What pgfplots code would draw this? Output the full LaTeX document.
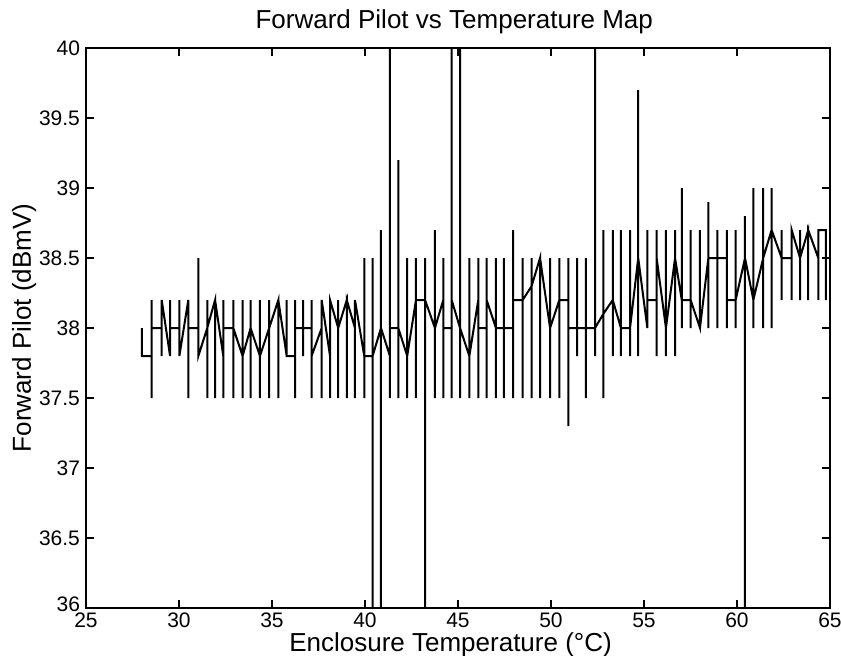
\documentclass[border=0pt]{standalone}
\usepackage{fontspec}
\setmainfont{Liberation Sans}
\usepackage{pgfplots}
\pgfplotsset{compat=1.18}
\usetikzlibrary{calc}
\begin{document}
\begin{tikzpicture}
\begin{axis}[name=ax, scale only axis, width=372pt, height=280pt,
  xmin=25, xmax=65, ymin=36, ymax=40,
  xtick={25,30,35,40,45,50,55,60,65},
  ytick={36,36.5,37,37.5,38,38.5,39,39.5,40},
  yticklabels={\raisebox{4pt}{36},36.5,37,37.5,38,38.5,39,39.5,40},
  tick align=inside, major tick length=4pt,
  tick style={black, line width=0.6pt},
  axis line style={line width=0.8pt},
  tick label style={font=\fontsize{10.5}{12}\selectfont},
  xticklabel style={yshift=1pt},
  yticklabel style={xshift=0.5pt},
  /pgf/number format/assume math mode=true,
  title={Forward Pilot vs Temperature Map},
  title style={font=\fontsize{13}{15}\selectfont, at={(axis description cs:0.495,1.046)}, anchor=center, yshift=-6pt},
  xlabel={Enclosure Temperature (°C)},
  xlabel style={font=\fontsize{13}{15}\selectfont, at={(axis description cs:0.49,-0.065)}, anchor=center},
  ylabel={Forward Pilot (dBmV)},
  ylabel style={font=\fontsize{13}{15}\selectfont, at={(axis description cs:-0.083,0.5)}, anchor=center},
  ]
% each temperature step: enter value, max, min, exit value
\addplot[black, line width=1pt, mark=none] coordinates {
 (28.00,38.0) (28.00,38.0) (28.00,37.8) (28.00,37.8)
 (28.53,37.8) (28.53,38.2) (28.53,37.5) (28.53,38.0)
 (29.07,38.0) (29.07,38.2) (29.07,37.8) (29.07,38.2)
 (29.52,37.8) (29.52,38.2) (29.52,37.8) (29.52,38.0)
 (30.02,38.0) (30.02,38.2) (30.02,37.8) (30.02,37.8)
 (30.50,38.2) (30.50,38.2) (30.50,37.5) (30.50,38.0)
 (31.04,38.0) (31.04,38.5) (31.04,37.8) (31.04,37.8)
 (31.52,38.0) (31.52,38.2) (31.52,37.5) (31.52,38.0)
 (31.94,38.2) (31.94,38.2) (31.94,37.5) (31.94,38.2)
 (32.38,37.8) (32.38,38.2) (32.38,37.5) (32.38,38.0)
 (32.92,38.0) (32.92,38.2) (32.92,37.5) (32.92,38.0)
 (33.42,37.8) (33.42,38.2) (33.42,37.5) (33.42,37.8)
 (33.85,38.0) (33.85,38.2) (33.85,37.5) (33.85,38.0)
 (34.35,37.8) (34.35,38.2) (34.35,37.5) (34.35,37.8)
 (34.85,38.0) (34.85,38.2) (34.85,37.5) (34.85,38.0)
 (35.34,38.2) (35.34,38.2) (35.34,37.5) (35.34,38.2)
 (35.79,37.8) (35.79,38.2) (35.79,37.8) (35.79,37.8)
 (36.24,37.8) (36.24,38.2) (36.24,37.5) (36.24,38.0)
 (36.68,38.0) (36.68,38.2) (36.68,37.8) (36.68,38.0)
 (37.13,38.0) (37.13,38.2) (37.13,37.5) (37.13,37.8)
 (37.67,38.0) (37.67,38.2) (37.67,37.5) (37.67,38.2)
 (38.12,37.8) (38.12,38.2) (38.12,37.5) (38.12,38.2)
 (38.56,38.0) (38.56,38.2) (38.56,37.5) (38.56,38.0)
 (39.02,38.2) (39.02,38.2) (39.02,37.5) (39.02,38.2)
 (39.46,38.0) (39.46,38.2) (39.46,37.5) (39.46,38.2)
 (39.96,37.8) (39.96,38.5) (39.96,37.5) (39.96,37.8)
 (40.41,37.8) (40.41,38.5) (40.41,36.0) (40.41,37.8)
 (40.86,38.0) (40.86,38.7) (40.86,36.0) (40.86,38.0)
 (41.34,37.8) (41.34,40.0) (41.34,37.5) (41.34,38.0)
 (41.79,38.0) (41.79,39.2) (41.79,37.5) (41.79,38.0)
 (42.27,37.8) (42.27,38.5) (42.27,37.5) (42.27,37.8)
 (42.74,38.2) (42.74,38.5) (42.74,37.5) (42.74,38.2)
 (43.23,38.2) (43.23,38.5) (43.23,36.0) (43.23,38.2)
 (43.76,38.0) (43.76,38.7) (43.76,37.5) (43.76,38.0)
 (44.21,38.2) (44.21,38.5) (44.21,37.5) (44.21,38.0)
 (44.66,38.0) (44.66,40.0) (44.66,37.5) (44.66,38.2)
 (45.11,38.0) (45.11,40.0) (45.11,37.5) (45.11,38.0)
 (45.61,37.8) (45.61,38.5) (45.61,37.5) (45.61,37.8)
 (46.09,38.2) (46.09,38.5) (46.09,37.5) (46.09,38.0)
 (46.54,38.0) (46.54,38.5) (46.54,37.5) (46.54,38.2)
 (47.04,38.0) (47.04,38.5) (47.04,37.5) (47.04,38.0)
 (47.47,38.0) (47.47,38.5) (47.47,37.5) (47.47,38.0)
 (47.97,38.0) (47.97,38.7) (47.97,37.5) (47.97,38.2)
 (48.48,38.2) (48.48,38.5) (48.48,37.5) (48.48,38.2)
 (48.96,38.3) (48.96,38.5) (48.96,37.5) (48.96,38.3)
 (49.41,38.5) (49.41,38.5) (49.41,37.5) (49.41,38.5)
 (49.95,38.0) (49.95,38.5) (49.95,37.5) (49.95,38.0)
 (50.45,38.2) (50.45,38.5) (50.45,37.5) (50.45,38.2)
 (50.93,38.2) (50.93,38.5) (50.93,37.3) (50.93,38.0)
 (51.41,38.0) (51.41,38.5) (51.41,37.8) (51.41,38.0)
 (51.88,38.0) (51.88,38.5) (51.88,37.5) (51.88,38.0)
 (52.37,38.0) (52.37,40.0) (52.37,37.8) (52.37,38.0)
 (52.81,38.1) (52.81,38.7) (52.81,37.5) (52.81,38.1)
 (53.32,38.2) (53.32,38.7) (53.32,37.8) (53.32,38.2)
 (53.76,38.0) (53.76,38.7) (53.76,37.8) (53.76,38.0)
 (54.25,38.0) (54.25,38.7) (54.25,37.8) (54.25,38.0)
 (54.69,38.5) (54.69,39.7) (54.69,37.8) (54.69,38.5)
 (55.18,38.0) (55.18,38.7) (55.18,38.0) (55.18,38.2)
 (55.68,38.2) (55.68,38.7) (55.68,37.8) (55.68,38.5)
 (56.18,38.0) (56.18,38.7) (56.18,37.8) (56.18,38.0)
 (56.67,38.5) (56.67,38.7) (56.67,37.8) (56.67,38.5)
 (57.03,38.2) (57.03,39.0) (57.03,38.0) (57.03,38.2)
 (57.51,38.2) (57.51,38.7) (57.51,38.0) (57.51,38.2)
 (58.01,38.0) (58.01,38.7) (58.01,38.0) (58.01,38.0)
 (58.46,38.5) (58.46,38.9) (58.46,38.0) (58.46,38.5)
 (58.94,38.5) (58.94,38.7) (58.94,38.0) (58.94,38.5)
 (59.45,38.5) (59.45,38.7) (59.45,38.0) (59.45,38.2)
 (59.93,38.2) (59.93,38.7) (59.93,38.0) (59.93,38.2)
 (60.43,38.5) (60.43,38.8) (60.43,36.0) (60.43,38.5)
 (60.88,38.2) (60.88,39.0) (60.88,38.0) (60.88,38.2)
 (61.41,38.5) (61.41,39.0) (61.41,38.0) (61.41,38.5)
 (61.86,38.7) (61.86,39.0) (61.86,38.0) (61.86,38.7)
 (62.40,38.5) (62.40,38.7) (62.40,38.2) (62.40,38.5)
 (62.94,38.5) (62.94,38.7) (62.94,38.2) (62.94,38.7)
 (63.39,38.5) (63.39,38.7) (63.39,38.2) (63.39,38.5)
 (63.83,38.7) (63.83,38.7) (63.83,38.2) (63.83,38.7)
 (64.37,38.5) (64.37,38.7) (64.37,38.2) (64.37,38.7)
 (64.78,38.7) (64.78,38.7) (64.78,38.2) (64.78,38.2)
};
\end{axis}
\pgfresetboundingbox
\path[use as bounding box] ($(ax.south west)+(-43pt,-23.5pt)$) rectangle ($(ax.north east)+(5.5pt,24pt)$);
\end{tikzpicture}
\end{document}
